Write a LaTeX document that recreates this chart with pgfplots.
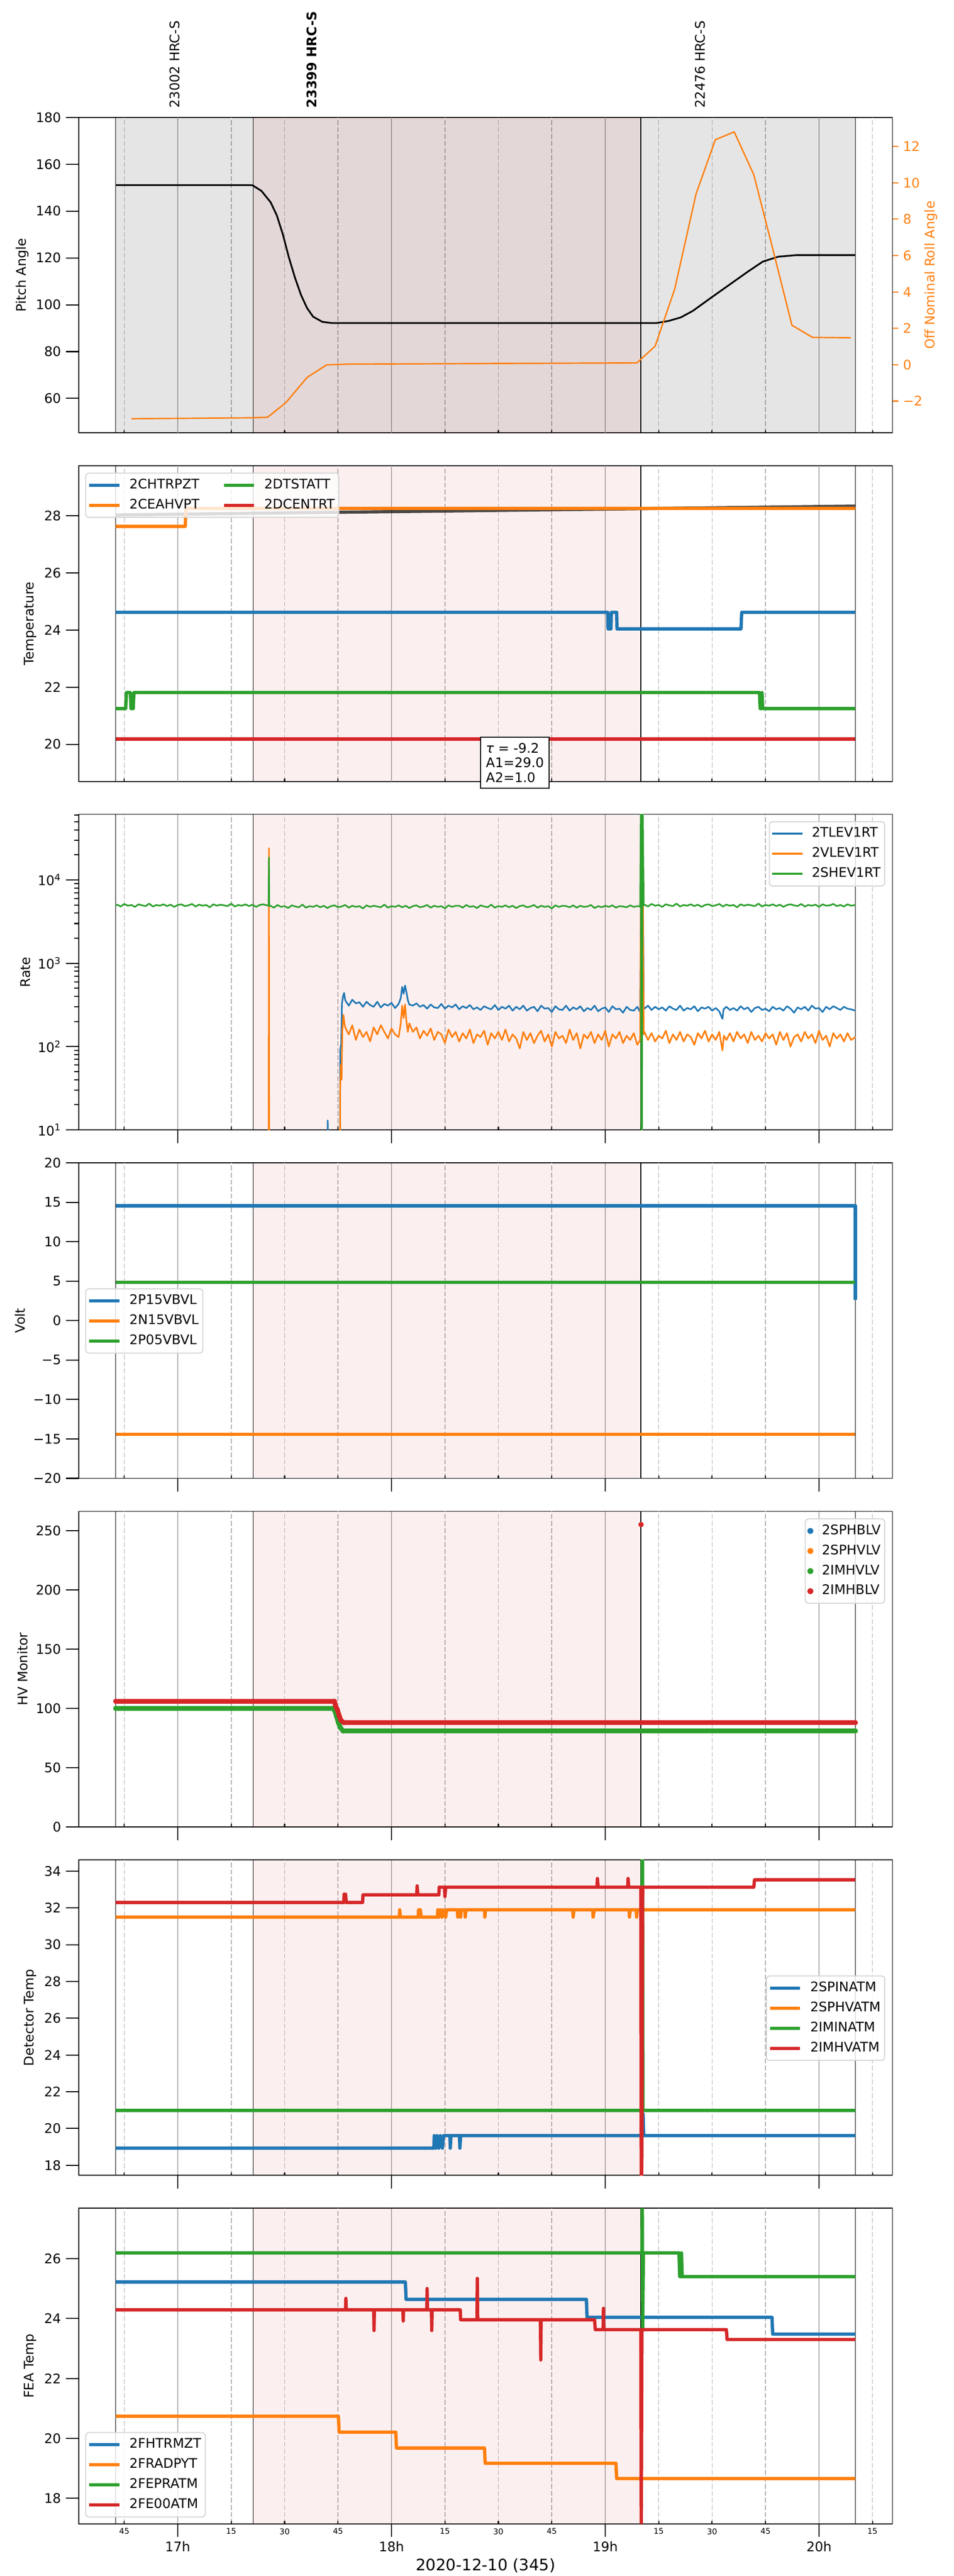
\documentclass[border=0pt]{standalone}
\usepackage{fontspec}
\setmainfont{DejaVu Sans}
\usepackage{pgfplots}
\pgfplotsset{compat=1.18}
\definecolor{C0}{HTML}{1F77B4}
\definecolor{C1}{HTML}{FF7F0E}
\definecolor{C2}{HTML}{2CA02C}
\definecolor{C3}{HTML}{D62728}
\definecolor{gridc}{HTML}{B0B0B0}
\definecolor{legframe}{HTML}{D6D6D6}

\pgfplotsset{
  legend image code/.code={\draw[#1] (0pt,0pt) -- (22.7pt,0pt);},
  base/.style={
    scale only axis, width=616.28pt, height=239.03pt, anchor=north west,
    xmin=-27.73, xmax=200.6,
    tick align=outside,
    major tick length=10pt, minor tick length=3.5pt,
    tick style={black, line width=0.8pt},
    axis line style={line width=0.7pt},
    every axis plot/.append style={line join=round},
    major grid style={draw=gridc, line width=0.6pt, solid},
    /pgf/number format/assume math mode=true,
    tick label style={font=\fontsize{10}{12}\selectfont},
    label style={font=\fontsize{10}{12}\selectfont},
    clip mode=individual,
    legend cell align=left,
    legend style={draw=legframe, line width=0.8pt, rounded corners=2.5pt, fill=white,
      fill opacity=0.8, draw opacity=1, text opacity=1, inner xsep=1.5pt, inner ysep=2.8pt,
      font=\fontsize{10}{12}\selectfont, row sep=2.5pt,
      nodes={inner sep=1.6pt, text height=7.3pt, text depth=2.2pt},
      /tikz/every odd column/.append style={column sep=4.9pt}},
  },
  qgrid/.style={
    tick pos=left,
    xmajorgrids=true,
    extra x ticks={-15,15,30,45,75,90,105,135,150,165,195},
    extra x tick labels={},
    extra x tick style={grid=major, major tick length=2.2pt, tick align=inside,
      major grid style={draw=gridc, line width=0.6pt, dash pattern=on 3.7pt off 1.6pt}},
    xticklabels={},
  },
}

\newcommand{\hourlines}[2]{%
  \draw[gridc, line width=0.6pt] (axis cs:0,#1) -- (axis cs:0,#2);
  \draw[gridc, line width=0.6pt] (axis cs:60,#1) -- (axis cs:60,#2);
  \draw[gridc, line width=0.6pt] (axis cs:120,#1) -- (axis cs:120,#2);
  \draw[gridc, line width=0.6pt] (axis cs:180,#1) -- (axis cs:180,#2);
}
\newcommand{\obsbg}[2]{%
  \fill[C3, opacity=0.07] (axis cs:21.15,#1) rectangle (axis cs:130.0,#2);
  \draw[black, line width=0.5pt] (axis cs:-17.42,#1) -- (axis cs:-17.42,#2);
  \draw[black, line width=0.5pt] (axis cs:21.15,#1) -- (axis cs:21.15,#2);
  \draw[black, line width=0.5pt] (axis cs:130.0,#1) -- (axis cs:130.0,#2);
  \draw[black, line width=0.5pt] (axis cs:190.2,#1) -- (axis cs:190.2,#2);
}

\begin{document}
\begin{tikzpicture}
\useasboundingbox (0,0) rectangle (722.7pt,-1951.29pt);
\fill[white] (0,0) rectangle (722.7pt,-1951.29pt);

%% ---------------- Panel 1: Pitch / Roll
\begin{axis}[base, qgrid, at={(59.80pt,-88.89pt)},
  ymin=45.3, ymax=180, ytick={60,80,...,180}, xtick=\empty,
  ylabel={Pitch Angle}, ylabel style={at={(axis description cs:-0.0694,0.5)}, anchor=center}]
  \hourlines{45.3}{180}
  \fill[black, opacity=0.1] (axis cs:-17.42,45.3) rectangle (axis cs:190.2,180);
  \obsbg{45.3}{180}
  \addplot[black, line width=1.3pt] coordinates {(-17.4,151.1) (20.0,151.1) (21.0,151.0) (23.5,148.6) (26.1,143.7) (27.8,138.2) (29.5,130.1) (31.2,120.2) (32.9,111.6) (34.6,104.2) (36.3,98.6) (38.0,94.9) (40.6,92.7) (43.2,92.2) (134.4,92.2) (137.8,93.1) (141.2,94.6) (144.6,97.4) (149.7,103.0) (154.8,108.5) (160.0,114.1) (164.2,118.4) (168.5,120.5) (173.6,121.2) (190.2,121.2)};
  \node[rotate=90, anchor=west, inner sep=0pt, font=\fontsize{10}{12}\selectfont] at ([yshift=6.9pt]axis cs:-0.79,180) {23002 HRC-S};
  \node[rotate=90, anchor=west, inner sep=0pt, font=\fontsize{10}{12}\selectfont\bfseries] at ([yshift=6.9pt]axis cs:37.57,180) {23399 HRC-S};
  \node[rotate=90, anchor=west, inner sep=0pt, font=\fontsize{10}{12}\selectfont] at ([yshift=6.9pt]axis cs:146.7,180) {22476 HRC-S};
\end{axis}
\begin{axis}[base, at={(59.80pt,-88.89pt)},
  axis y line*=right, axis x line=none, xtick=\empty,
  ytick pos=right, yticklabel pos=right,
  ymin=-3.75, ymax=13.6, ytick={-2,0,2,4,6,8,10,12},
  yticklabels={−2,0,2,4,6,8,10,12},
  major tick length=4.5pt,
  ytick style={draw=C1}, yticklabel style={text=C1},
  ylabel={Off Nominal Roll Angle}, ylabel style={text=C1, at={(axis description cs:1.0472,0.5)}, anchor=center}]
  \addplot[C1, line width=1.05pt] coordinates {(-13.0,-2.97) (20.96,-2.92) (25.2,-2.89) (30.3,-2.1) (36.3,-0.70) (41.8,-0.01) (47.4,0.03) (128.9,0.10) (134.0,1.02) (139.5,4.16) (145.5,9.4) (150.9,12.37) (156.2,12.8) (161.7,10.44) (166.8,6.54) (172.4,2.17) (178.2,1.50) (189.0,1.48)};
\end{axis}

%% ---------------- Panel 2: Temperature
\begin{axis}[base, qgrid, at={(59.80pt,-352.86pt)},
  ymin=18.7, ymax=29.75, ytick={20,22,...,28}, xtick=\empty,
  ylabel={Temperature}, ylabel style={at={(axis description cs:-0.0596,0.5)}, anchor=center},
  legend columns=2,
  legend style={at={(axis description cs:0.0077,0.9785)}, anchor=north west,
    /tikz/every even column/.append style={column sep=15.8pt}}]
  \hourlines{18.7}{29.75}
  \obsbg{18.7}{29.75}
  \addplot[black, opacity=0.7, line width=2.4pt, forget plot] coordinates {(-17.4,28.03) (190.2,28.34)};
  \addplot[C0, line width=2.5pt, forget plot] coordinates {(-17.4,24.62) (120.7,24.62) (120.8,24.04) (121.6,24.04) (121.7,24.62) (123.2,24.62) (123.3,24.04) (158.1,24.04) (158.3,24.62) (190.2,24.62)};
  \addplot[C1, line width=2.5pt, forget plot] coordinates {(-17.4,27.63) (2.1,27.63) (2.3,28.26) (190.2,28.26)};
  \addplot[C2, line width=2.5pt, forget plot] coordinates {(-17.4,21.25) (-14.6,21.25) (-14.4,21.81) (-13.3,21.81) (-13.1,21.25) (-12.5,21.25) (-12.3,21.81) (163.3,21.81) (163.5,21.25) (163.9,21.25) (164.0,21.81) (164.2,21.25) (190.2,21.25)};
  \addplot[C3, line width=2.5pt, forget plot] coordinates {(-17.4,20.18) (190.2,20.18)};
  \addlegendimage{C0, line width=2.5pt}\addlegendentry{2CHTRPZT}
  \addlegendimage{C2, line width=2.5pt}\addlegendentry{2DTSTATT}
  \addlegendimage{C1, line width=2.5pt}\addlegendentry{2CEAHVPT}
  \addlegendimage{C3, line width=2.5pt}\addlegendentry{2DCENTRT}
  \node[draw=black, line width=0.8pt, fill=white, align=left, inner xsep=4pt, inner ysep=4.5pt,
    font=\fontsize{10}{11}\selectfont] at (axis description cs:0.536,0.059)
    {\textit{τ} = -9.2\\A1=29.0\\A2=1.0};
\end{axis}

%% ---------------- Panel 3: Rate
\begin{axis}[base, qgrid, at={(59.80pt,-616.83pt)},
  ymode=log, ymin=10, ymax=61300,
  ytick={10,100,1000,10000},
  yticklabels={10\textsuperscript{1},10\textsuperscript{2},10\textsuperscript{3},10\textsuperscript{4}},
  minor ytick={20,30,40,50,60,70,80,90,200,300,400,500,600,700,800,900,2000,3000,4000,5000,6000,7000,8000,9000,20000,30000,40000,50000,60000},
  xtick={0,60,120,180},
  ylabel={Rate}, ylabel style={at={(axis description cs:-0.0656,0.5)}, anchor=center},
  legend style={at={(axis description cs:0.9912,0.9782)}, anchor=north east}]
  \obsbg{10}{61300}
  % 2TLEV1RT
  \addplot[C0, line width=1.2pt, forget plot] coordinates {(41.9,0.1) (42.1,13) (42.3,0.1)};
  \addplot[C0, line width=1.2pt, forget plot] coordinates {(45.5,0.1) (45.6,90) (45.9,110) (46.1,330) (46.4,400) (46.7,440) (47,360) (48,310) (49,365) (50,330) (51,340) (52,300) (53,345) (54,315) (55,300) (56,345) (57,295) (58,325) (59,310) (60,335) (61,290) (62,325) (62.6,380) (63.0,520) (63.4,430) (63.8,540) (64.2,450) (64.6,360) (65,320) (66,310) (67,330) (68,300) (69,315) (70,285) (71,320) (72,295) (73,290) (74,325) (75,285) (76,310) (77,295) (78,320) (79,280) (80,305) (81,290) (82,315) (83,280) (84,295) (85,275) (86,305) (87,290) (88,280) (89,315) (90,275) (91,300) (92,285) (93,310) (94,270) (95,300) (96,280) (97,310) (98,270) (99,290) (100,300) (101,265) (102,310) (103,285) (104,290) (105,260) (106,305) (107,280) (108,275) (109,310) (110,270) (111,295) (112,280) (113,305) (114,265) (115,290) (116,275) (117,310) (118,265) (119,285) (120,295) (121,260) (122,305) (123,280) (124,285) (125,255) (126,300) (127,275) (128,270) (129,300) (129.8,260) (130.0,5000) (130.6,5000) (130.8,300) (131,285) (132,310) (133,275) (134,300) (135,280) (136,295) (137,270) (138,305) (139,285) (140,275) (141,310) (142,270) (143,290) (144,280) (145,305) (146,265) (147,295) (148,285) (149,300) (150,270) (151,290) (152,265) (152.9,215) (153.2,280) (154,300) (155,275) (156,290) (157,270) (158,305) (159,280) (160,295) (161,260) (162,290) (163,300) (164,275) (165,285) (166,265) (167,300) (168,280) (169,290) (170,270) (171,305) (172,285) (173,255) (174,295) (175,280) (176,300) (177,270) (178,310) (179,285) (180,290) (181,260) (182,300) (183,280) (184,305) (185,290) (186,275) (187,300) (188,285) (189,280) (190.2,270)};
  % 2VLEV1RT
  \addplot[C1, line width=1.2pt, forget plot] coordinates {(25.5,0.1) (25.6,24000) (25.7,0.1)};
  \addplot[C1, line width=1.2pt, forget plot] coordinates {(45.5,0.1) (45.6,30) (45.8,60) (46.0,40) (46.2,150) (46.5,240) (46.8,190) (47,170) (48,140) (49,180) (50,120) (51,160) (52,130) (53,150) (54,115) (55,170) (56,140) (57,180) (58,150) (59,125) (60,165) (61,140) (62,130) (62.6,190) (63.0,310) (63.4,220) (63.8,320) (64.2,200) (64.6,150) (65,190) (66,150) (67,170) (68,125) (69,155) (70,135) (71,165) (72,120) (73,150) (74,140) (75,110) (76,160) (77,130) (78,150) (79,115) (80,145) (81,125) (82,160) (83,110) (84,140) (85,130) (86,155) (87,105) (88,145) (89,125) (90,150) (91,120) (92,160) (93,115) (94,140) (95,125) (96,95) (97,150) (98,120) (99,145) (100,110) (101,135) (102,155) (103,115) (104,140) (105,100) (106,150) (107,125) (108,135) (109,110) (110,160) (111,120) (112,145) (113,95) (114,140) (115,125) (116,150) (117,110) (118,140) (119,120) (120,155) (121,100) (122,140) (123,125) (124,150) (125,110) (126,135) (127,120) (128,145) (129,105) (129.8,120) (130.0,5000) (130.6,5000) (130.8,140) (131,150) (132,120) (133,145) (134,115) (135,135) (136,125) (137,155) (138,110) (139,140) (140,120) (141,150) (142,115) (143,140) (144,130) (145,105) (146,145) (147,125) (148,155) (149,115) (150,140) (151,120) (152,150) (152.9,90) (153.3,135) (154,120) (155,145) (156,115) (157,150) (158,125) (159,140) (160,110) (161,150) (162,120) (163,135) (164,115) (165,145) (166,125) (167,140) (168,105) (169,150) (170,120) (171,145) (172,100) (173,130) (174,140) (175,115) (176,150) (177,125) (178,140) (179,110) (180,155) (181,120) (182,135) (183,100) (184,145) (185,125) (186,140) (187,115) (188,145) (189,120) (190.2,130)};
  % 2SHEV1RT
  \addplot[C2, line width=1.2pt, forget plot] coordinates {(-17.4,4950) (-17,5050) (-16,4800) (-15,5150) (-14,4900) (-13,5000) (-12,4750) (-11,5100) (-10,4950) (-9,4850) (-8,5200) (-7,4800) (-6,5000) (-5,4900) (-4,5100) (-3,4850) (-2,5050) (-1,4750) (0,5000) (1,5100) (2,4850) (3,4950) (4,5150) (5,4800) (6,5050) (7,4900) (8,5000) (9,4700) (10,5100) (11,4900) (12,5050) (13,4950) (14,4850) (15,5200) (16,4800) (17,5000) (18,4900) (19,5100) (20,4850) (21,5050) (22,4750) (23,5000) (24,5100) (25,4950) (25.5,5000) (25.6,18600) (25.7,4850) (26,4900) (27,4650) (28,5000) (29,4750) (30,4850) (31,4600) (32,4950) (33,4800) (34,4700) (35,5050) (36,4650) (37,4850) (38,4750) (39,4950) (40,4700) (41,4900) (42,4600) (43,4850) (44,4950) (45,4700) (46,4800) (47,5000) (48,4650) (49,4900) (50,4750) (51,4850) (52,4550) (53,4950) (54,4750) (55,4900) (56,4800) (57,4700) (58,5050) (59,4650) (60,4850) (61,4750) (62,4950) (63,4700) (64,4900) (65,4600) (66,4850) (67,4950) (68,4700) (69,4800) (70,5000) (71,4650) (72,4900) (73,4750) (74,4850) (75,4550) (76,4950) (77,4750) (78,4900) (79,4900) (80,4650) (81,5000) (82,4750) (83,4850) (84,4600) (85,4950) (86,4800) (87,4700) (88,5050) (89,4650) (90,4850) (91,4750) (92,4950) (93,4700) (94,4900) (95,4600) (96,4850) (97,4950) (98,4700) (99,4800) (100,5000) (101,4650) (102,4900) (103,4750) (104,4850) (105,4550) (106,4950) (107,4750) (108,4900) (109,4850) (110,4700) (111,4950) (112,4650) (113,4900) (114,4750) (115,4800) (116,5000) (117,4600) (118,4850) (119,4700) (120,4900) (121,4750) (122,4950) (123,4650) (124,4850) (125,4800) (126,4700) (127,4950) (128,4750) (129,4850) (129.8,4800) (130.0,100000) (130.2,0.1) (130.5,100000) (130.8,4950) (131,5050) (132,4800) (133,5150) (134,4900) (135,5000) (136,4750) (137,5100) (138,4950) (139,4850) (140,5200) (141,4800) (142,5000) (143,4900) (144,5100) (145,4850) (146,5050) (147,4750) (148,5000) (149,5100) (150,4850) (151,4950) (152,5150) (153,4800) (154,5050) (155,4900) (156,5000) (157,4700) (158,5100) (159,4900) (160,5050) (161,4950) (162,4850) (163,5200) (164,4800) (165,5000) (166,4900) (167,5100) (168,4850) (169,5050) (170,4750) (171,5000) (172,5100) (173,4950) (174,4850) (175,5150) (176,4800) (177,5000) (178,4900) (179,5050) (180,4750) (181,5100) (182,4900) (183,4950) (184,5150) (185,4850) (186,5000) (187,4800) (188,5100) (189,4900) (190.2,5000)};
  \addlegendimage{C0, line width=1.5pt}\addlegendentry{2TLEV1RT}
  \addlegendimage{C1, line width=1.5pt}\addlegendentry{2VLEV1RT}
  \addlegendimage{C2, line width=1.5pt}\addlegendentry{2SHEV1RT}
\end{axis}

%% ---------------- Panel 4: Volt
\begin{axis}[base, qgrid, at={(59.80pt,-880.80pt)},
  ymin=-20, ymax=20, ytick={-20,-15,...,20},
  yticklabels={−20,−15,−10,−5,0,5,10,15,20},
  xtick={0,60,120,180},
  ylabel={Volt}, ylabel style={at={(axis description cs:-0.0724,0.5)}, anchor=center},
  legend style={at={(axis description cs:0.0077,0.4989)}, anchor=west}]
  \obsbg{-20}{20}
  \addplot[C0, line width=2.5pt, forget plot] coordinates {(-17.4,14.55) (190.2,14.55) (190.2,2.6)};
  \addplot[C1, line width=2.5pt, forget plot] coordinates {(-17.4,-14.43) (190.2,-14.43)};
  \addplot[C2, line width=2.5pt, forget plot] coordinates {(-17.4,4.85) (190.2,4.85)};
  \addlegendimage{C0, line width=2.5pt}\addlegendentry{2P15VBVL}
  \addlegendimage{C1, line width=2.5pt}\addlegendentry{2N15VBVL}
  \addlegendimage{C2, line width=2.5pt}\addlegendentry{2P05VBVL}
\end{axis}

%% ---------------- Panel 5: HV Monitor
\begin{axis}[base, qgrid, at={(59.80pt,-1144.77pt)},
  ymin=0, ymax=266.4, ytick={0,50,...,250},
  xtick={0,60,120,180},
  ylabel={HV Monitor}, ylabel style={at={(axis description cs:-0.0694,0.5)}, anchor=center},
  legend image code/.code={\fill[#1, fill opacity=1] (11.35pt,0pt) circle (1.9pt);},
  legend style={at={(axis description cs:0.9912,0.9776)}, anchor=north east}]
  \obsbg{0}{266.4}
  \addplot[C2, line width=3.6pt, line cap=round, mark=*, mark size=1.8pt, mark options={line width=0.3pt}, forget plot] coordinates {(-17.4,100) (43.7,100) (44.2,97) (44.6,93) (45.1,88) (45.6,84) (46.4,81) (190.2,81)};
  \addplot[C3, line width=3.6pt, line cap=round, mark=*, mark size=1.8pt, mark options={line width=0.3pt}, forget plot] coordinates {(-17.4,106) (44.0,106) (44.3,102) (44.8,99) (45.3,94) (45.8,90) (46.6,88) (190.2,88)};
  \addplot[C3, only marks, mark=*, mark size=1.9pt, mark options={line width=0.3pt}, forget plot] coordinates {(130.05,255.2)};
  \addlegendimage{C0}\addlegendentry{2SPHBLV}
  \addlegendimage{C1}\addlegendentry{2SPHVLV}
  \addlegendimage{C2}\addlegendentry{2IMHVLV}
  \addlegendimage{C3}\addlegendentry{2IMHBLV}
\end{axis}

%% ---------------- Panel 6: Detector Temp
\begin{axis}[base, qgrid, at={(59.80pt,-1408.74pt)},
  ymin=17.45, ymax=34.62, ytick={18,20,...,34},
  xtick={0,60,120,180},
  ylabel={Detector Temp}, ylabel style={at={(axis description cs:-0.0596,0.5)}, anchor=center},
  legend style={at={(axis description cs:0.9912,0.498)}, anchor=east}]
  \obsbg{17.45}{34.62}
  \addplot[C0, line width=2.5pt, forget plot] coordinates {(-17.4,18.93) (71.9,18.93) (72.0,19.61) (72.5,18.93) (72.8,19.61) (73.3,18.93) (73.7,19.61) (74.3,18.93) (74.6,19.61) (76.4,19.61) (76.5,18.93) (76.7,19.61) (79.1,19.61) (79.2,18.93) (79.4,19.61) (130.5,19.61) (130.6,20.8) (130.8,19.61) (190.2,19.61)};
  \addplot[C1, line width=2.5pt, forget plot] coordinates {(-17.4,31.50) (62.2,31.50) (62.3,31.9) (62.5,31.50) (67.5,31.5) (67.6,31.9) (67.8,31.5) (68.1,31.9) (68.3,31.5) (72.9,31.5) (73.0,31.9) (73.4,31.5) (73.7,31.9) (74.2,31.5) (74.5,31.9) (75.2,31.5) (75.5,31.9) (78.5,31.9) (78.6,31.5) (78.8,31.9) (79.3,31.9) (79.4,31.5) (79.6,31.9) (80.6,31.9) (80.7,31.5) (80.9,31.9) (86.1,31.9) (86.2,31.5) (86.4,31.9) (110.9,31.9) (111.0,31.5) (111.2,31.9) (116.5,31.9) (116.6,31.5) (116.9,31.9) (126.7,31.9) (126.8,31.5) (127.0,31.9) (128.7,31.9) (128.8,31.5) (129.0,31.9) (190.2,31.9)};
  \addplot[C2, line width=2.5pt, forget plot] coordinates {(-17.4,20.98) (130.3,20.98) (130.4,40) (130.6,20.98) (190.2,20.98)};
  \addplot[C3, line width=2.5pt, forget plot] coordinates {(-17.4,32.30) (46.6,32.30) (46.7,32.75) (46.9,32.30) (47.1,32.75) (47.3,32.30) (51.9,32.30) (52.0,32.71) (67.1,32.71) (67.2,33.2) (67.4,32.71) (73.3,32.71) (73.4,33.13) (74.9,33.13) (75.0,32.62) (75.2,33.13) (117.7,33.13) (117.8,33.6) (118.0,33.13) (126.3,33.13) (126.4,33.6) (126.6,33.13) (130.0,33.13) (130.1,16) (130.3,18.7) (130.5,33.13) (161.7,33.13) (161.9,33.53) (190.2,33.53)};
  \addlegendimage{C0, line width=2.5pt}\addlegendentry{2SPINATM}
  \addlegendimage{C1, line width=2.5pt}\addlegendentry{2SPHVATM}
  \addlegendimage{C2, line width=2.5pt}\addlegendentry{2IMINATM}
  \addlegendimage{C3, line width=2.5pt}\addlegendentry{2IMHVATM}
\end{axis}

%% ---------------- Panel 7: FEA Temp
\begin{axis}[base, qgrid, at={(59.80pt,-1672.71pt)},
  ymin=17.15, ymax=27.68, ytick={18,20,...,26},
  xtick={0,60,120,180},
  xticklabels={17h,18h,19h,20h},
  extra x tick labels={45,15,30,45,15,30,45,15,30,45,15},
  extra x tick style={tick label style={font=\fontsize{6}{7}\selectfont}},
  xlabel={2020-12-10 (345)},
  xlabel style={font=\fontsize{12}{14}\selectfont, at={(axis description cs:0.5,0)}, anchor=center, yshift=-31.5pt},
  ylabel={FEA Temp}, ylabel style={at={(axis description cs:-0.0596,0.5)}, anchor=center},
  legend style={at={(axis description cs:0.0077,0.02)}, anchor=south west}]
  \obsbg{17.15}{27.68}
  \addplot[C0, line width=2.5pt, forget plot] coordinates {(-17.4,25.22) (63.9,25.22) (64.1,24.64) (114.7,24.64) (114.9,24.04) (166.8,24.04) (167.0,23.48) (190.2,23.48)};
  \addplot[C1, line width=2.5pt, forget plot] coordinates {(-17.4,20.74) (45.1,20.74) (45.3,20.21) (61.2,20.21) (61.4,19.68) (86.1,19.68) (86.3,19.17) (123.0,19.17) (123.2,18.66) (190.2,18.66)};
  \addplot[C2, line width=2.5pt, forget plot] coordinates {(-17.4,26.19) (130.3,26.19) (130.4,28.5) (130.5,23.6) (130.7,26.19) (140.7,26.19) (140.9,25.40) (141.3,25.40) (141.4,26.19) (141.6,25.40) (190.2,25.40)};
  \addplot[C3, line width=2.5pt, forget plot] coordinates {(-17.4,24.29) (47.1,24.29) (47.2,24.67) (47.3,24.29) (55.0,24.29) (55.1,23.60) (55.2,24.29) (63.2,24.29) (63.3,23.92) (63.4,24.29) (69.9,24.29) (70.0,25.0) (70.1,24.29) (71.2,24.29) (71.3,23.6) (71.4,24.29) (79.3,24.29) (79.4,23.96) (84.0,23.96) (84.1,25.34) (84.2,23.96) (101.8,23.96) (101.9,22.62) (102.0,23.96) (117.0,23.96) (117.2,23.63) (119.4,23.63) (119.5,24.34) (119.6,23.63) (130.0,23.63) (130.1,16.5) (130.3,23.63) (154.0,23.63) (154.2,23.30) (190.2,23.30)};
  \addlegendimage{C0, line width=2.5pt}\addlegendentry{2FHTRMZT}
  \addlegendimage{C1, line width=2.5pt}\addlegendentry{2FRADPYT}
  \addlegendimage{C2, line width=2.5pt}\addlegendentry{2FEPRATM}
  \addlegendimage{C3, line width=2.5pt}\addlegendentry{2FE00ATM}
\end{axis}
\end{tikzpicture}
\end{document}
